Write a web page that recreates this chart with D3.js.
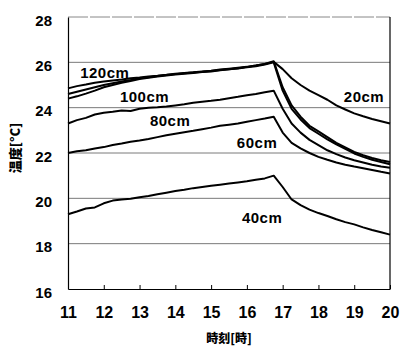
<!DOCTYPE html>
<html lang="ja">
<head>
<meta charset="utf-8">
<title>温度</title>
<script src="https://d3js.org/d3.v7.min.js"></script>
<style>
  body { margin: 0; background: #fff; }
  text { font-family: "Liberation Sans", Arial, sans-serif; font-weight: bold; fill: #000; }
  .jp { font-family: "Noto Sans CJK JP", sans-serif; font-weight: 900; }
</style>
</head>
<body>
<svg width="401" height="348"></svg>
<script>
// time of day [h]
const hours = [11, 11.25, 11.5, 11.75, 12, 12.25, 12.5, 12.75, 13, 13.25, 13.5, 13.75,
  14, 14.25, 14.5, 14.75, 15, 15.25, 15.5, 15.75, 16, 16.25, 16.5, 16.75,
  17, 17.25, 17.5, 17.75, 18, 18.25, 18.5, 18.75, 19, 19.25, 19.5, 19.75, 20];

// temperature [°C] by height
const t120 = [24.85, 24.95, 25.02, 25.1, 25.15, 25.2, 25.24, 25.3, 25.33, 25.38, 25.41, 25.45,
  25.5, 25.53, 25.56, 25.6, 25.63, 25.68, 25.72, 25.76, 25.8, 25.86, 25.93, 26.05,
  24.9, 24.1, 23.6, 23.2, 22.95, 22.7, 22.45, 22.25, 22.05, 21.9, 21.78, 21.68, 21.6];
const t100 = [24.4, 24.5, 24.62, 24.75, 24.9, 25.0, 25.1, 25.18, 25.26, 25.32, 25.37, 25.42,
  25.46, 25.5, 25.53, 25.57, 25.6, 25.65, 25.7, 25.73, 25.78, 25.83, 25.9, 26.0,
  24.75, 23.95, 23.48, 23.1, 22.85, 22.6, 22.38, 22.18, 21.98, 21.83, 21.7, 21.6, 21.5];
const t80 = [23.3, 23.45, 23.55, 23.7, 23.78, 23.82, 23.88, 23.85, 23.95, 24.0, 24.02, 24.05,
  24.1, 24.15, 24.22, 24.26, 24.3, 24.35, 24.42, 24.48, 24.55, 24.6, 24.68, 24.75,
  23.95, 23.3, 22.9, 22.58, 22.35, 22.12, 21.95, 21.8, 21.68, 21.58, 21.48, 21.4, 21.35];
const t60 = [22.0, 22.08, 22.12, 22.2, 22.26, 22.35, 22.42, 22.5, 22.55, 22.62, 22.7, 22.78,
  22.85, 22.92, 22.98, 23.05, 23.12, 23.2, 23.25, 23.3, 23.38, 23.45, 23.52, 23.6,
  22.9, 22.45, 22.2, 22.0, 21.83, 21.7, 21.58, 21.48, 21.4, 21.33, 21.25, 21.17, 21.1];
const t40 = [19.3, 19.42, 19.55, 19.6, 19.78, 19.9, 19.95, 19.98, 20.05, 20.1, 20.18, 20.25,
  20.32, 20.38, 20.45, 20.5, 20.55, 20.6, 20.65, 20.7, 20.75, 20.82, 20.88, 21.0,
  20.5, 19.95, 19.7, 19.5, 19.35, 19.22, 19.08, 18.95, 18.85, 18.72, 18.6, 18.5, 18.4];
const t20 = [24.6, 24.7, 24.8, 24.9, 25.0, 25.08, 25.15, 25.22, 25.3, 25.34, 25.4, 25.44,
  25.48, 25.52, 25.55, 25.58, 25.62, 25.66, 25.7, 25.74, 25.8, 25.86, 25.93, 26.02,
  25.7, 25.3, 25.0, 24.75, 24.55, 24.35, 24.1, 23.92, 23.75, 23.62, 23.5, 23.4, 23.3];

const seriesNames = ["120cm", "100cm", "80cm", "60cm", "40cm", "20cm"];
const seriesValues = [t120, t100, t80, t60, t40, t20];
// where each label sits, in [hour, °C]
const labelAt = [[11.34, 25.31], [12.45, 24.25], [13.29, 23.19], [15.72, 22.22], [15.86, 18.91], [18.71, 24.25]];

const xTicks = [11, 12, 13, 14, 15, 16, 17, 18, 19, 20];
const yTicks = [16, 18, 20, 22, 24, 26, 28];

const svg = d3.select("svg");
const x = d3.scaleLinear().domain([11, 20]).range([68, 390]);
const y = d3.scaleLinear().domain([16, 28]).range([289, 17]);

// grid
svg.append("g").selectAll("line")
  .data(yTicks.filter(d => d > 16 && d < 28))
  .join("line")
  .attr("x1", x(11)).attr("x2", x(20))
  .attr("y1", d => y(d)).attr("y2", d => y(d))
  .attr("stroke", "#7a7a7a").attr("stroke-width", 1);

// frame top (light) and right
svg.append("line")
  .attr("x1", x(11)).attr("x2", x(20)).attr("y1", y(28)).attr("y2", y(28))
  .attr("stroke", "#888").attr("stroke-width", 1).attr("stroke-dasharray", "20,2");
svg.append("line")
  .attr("x1", x(20)).attr("x2", x(20)).attr("y1", y(28)).attr("y2", y(16))
  .attr("stroke", "#000").attr("stroke-width", 1.2);

// axes
const xAxis = svg.append("g")
  .attr("transform", `translate(0,${y(16)})`)
  .call(d3.axisBottom(x).tickValues(xTicks).tickSizeInner(-4).tickSizeOuter(0).tickPadding(18));
xAxis.selectAll("text").style("font-size", "16px");
xAxis.select(".domain").attr("stroke-width", 1.2);

const yAxis = svg.append("g")
  .attr("transform", `translate(${x(11)},0)`)
  .call(d3.axisLeft(y).tickValues(yTicks).tickSize(0).tickPadding(16));
yAxis.selectAll("text").style("font-size", "15px").attr("dy", "0.55em");
yAxis.select(".domain").attr("stroke-width", 1.2);
svg.selectAll(".tick text").attr("font-family", null);

// lines
const line = d3.line()
  .x((d, i) => x(hours[i]))
  .y(d => y(d));

svg.append("g").selectAll("path")
  .data(seriesValues)
  .join("path")
  .attr("d", line)
  .attr("fill", "none")
  .attr("stroke", "#000")
  .attr("stroke-width", 2)
  .attr("stroke-linejoin", "round");

// series labels
svg.append("g").selectAll("text")
  .data(seriesNames)
  .join("text")
  .attr("x", (d, i) => x(labelAt[i][0]))
  .attr("y", (d, i) => y(labelAt[i][1]))
  .style("font-size", "15px")
  .style("letter-spacing", "0.5px")
  .text(d => d);

// axis titles
svg.append("text")
  .attr("class", "jp")
  .attr("x", (x(11) + x(20)) / 2)
  .attr("y", 343)
  .attr("text-anchor", "middle")
  .style("font-size", "12px")
  .text("時刻[時]");

svg.append("text")
  .attr("class", "jp")
  .attr("transform", "translate(20,148) rotate(-90)")
  .attr("text-anchor", "middle")
  .style("font-size", "13px")
  .text("温度[°C]");
</script>
</body>
</html>
